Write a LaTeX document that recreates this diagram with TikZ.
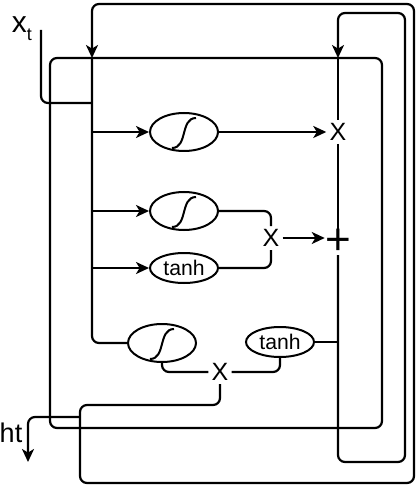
\documentclass[tikz,border=0pt]{standalone}
\usepackage{fontspec}
\setmainfont{Liberation Sans}
\usetikzlibrary{arrows.meta,shapes.geometric}
\def\sigcurve(#1){\draw[line width=1pt, shift={(#1)}] (-12,16) .. controls (4,16) and (-4,-14) .. (12,-14);}
\tikzset{
  gate/.style={draw, ellipse, line width=1pt, inner sep=0pt, minimum width=34pt, minimum height=19pt},
  tgate/.style={gate, minimum height=15pt, font=\fontsize{10.6}{12}\selectfont},
  op/.style={inner sep=1.5pt, font=\fontsize{12.5}{13}\selectfont},
  wire/.style={line width=1.1pt, rounded corners=3.5pt},
  arr/.style={wire, -{Stealth[length=6.5pt, width=6pt, inset=1.8pt]}},
}

\begin{document}
\begin{tikzpicture}[x=0.5pt, y=-0.5pt]
  \useasboundingbox (0,0) rectangle (418,486);

  %%%%% GATES %%%%%
  \node[gate] (fsig) at (184,132) {};
  \node[gate] (isig) at (184,211) {};
  \node[tgate] (itanh) at (184,268) {tanh};
  \node[gate] (osig) at (162,343) {};
  \node[tgate] (otanh) at (280,342) {tanh};
  \sigcurve(fsig)
  \sigcurve(isig)
  \sigcurve(osig)

  \node[op] (fX) at (338,132) {X};
  \node[op] (iX) at (271,238) {X};
  \node[op] (oX) at (220,372) {X};
  \node[inner sep=0pt, font=\fontsize{22}{22}\selectfont] (plus) at (338,242) {+};

  \node[font=\fontsize{15}{16}\selectfont] (xt) at (22,29) {x\raisebox{-4pt}{\fontsize{9}{10}\selectfont t}};
  \node[font=\fontsize{13.5}{14}\selectfont] (ht) at (11,433) {ht};

  \coordinate (hin) at (92,58);
  \coordinate (cin) at (338,58);
  \coordinate (xtop) at (41,30);
  \coordinate (xin) at (92,103);
  \coordinate (hsplit) at (80,417);

  %%%%% CELL %%%%%
  \draw[wire] (50,58) rectangle (382,428);

  % input bus
  \draw[wire] (hin) |- (osig.west);
  \draw[arr] (hin |- fsig) -- (fsig);
  \draw[arr] (hin |- isig) -- (isig);
  \draw[arr] (hin |- itanh) -- (itanh);
  \draw[wire] (xtop) |- (xin);

  % gate outputs
  \draw[arr] (fsig.east) -- (fsig.east -| fX.west);
  \draw[wire] (isig) -| (iX);
  \draw[wire] (itanh) -| (iX);
  \draw[arr] (iX.east) -- (iX.east -| plus.west);
  \draw[wire] (osig) |- (oX);
  \draw[wire] (otanh) |- (oX);
  \draw[wire] (otanh) -- (otanh -| cin);

  % cell state
  \draw[wire] (cin) -- (fX);
  \draw[wire] (fX) -- (plus);
  \draw[arr] (plus) -- (plus |- 0,462) -- (405,462) -- (405,13) -- (338,13) -- (cin);

  % hidden state
  \draw[arr] (oX) -- (oX |- 0,405) -- (80,405) -- (80,483) -- (414,483) -- (414,4) -- (92,4) -- (hin);
  \draw[arr] (hsplit) -- (28,417) -- (28,462);
\end{tikzpicture}
\end{document}
